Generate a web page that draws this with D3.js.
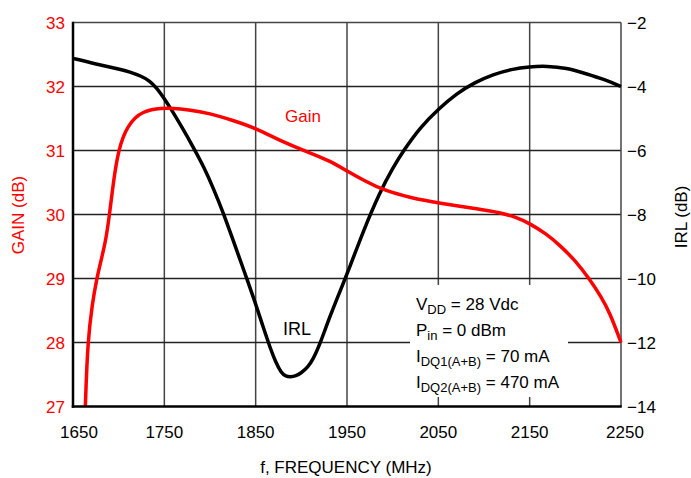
<!DOCTYPE html>
<html><head><meta charset="utf-8">
<script src="https://cdn.jsdelivr.net/npm/d3@7"></script>
<style>
body{margin:0;background:#fff;}
text{font-family:"Liberation Sans",Arial,Helvetica,sans-serif;}
</style></head>
<body><svg id="c" width="691" height="478"></svg>
<script>
const freqTicks = [1650,1750,1850,1950,2050,2150,2250];
const gainTicks = [27,28,29,30,31,32,33];
const irlTicks = [-14,-12,-10,-8,-6,-4,-2];

const gainFreq = [1663.5,1666,1671,1676,1681,1686,1690,1695,1700,1705,1710,1718,1727,1736,1745,1760,1775,1800,1825,1850,1880,1910,1931,1950,1970,1990,2020,2050,2096,2117,2135,2150,2168,2183,2200,2216,2228,2238,2250];
const gainVal  = [27.0,28.0,28.6,29.0,29.3,29.6,30.0,30.6,31.0,31.22,31.37,31.52,31.6,31.64,31.66,31.66,31.64,31.58,31.47,31.35,31.13,30.96,30.84,30.68,30.52,30.38,30.26,30.18,30.08,30.03,29.96,29.86,29.7,29.52,29.28,28.98,28.72,28.46,28.0];

const irlFreq = [1650,1675,1701,1712,1725,1734,1742,1749,1756,1769,1782,1793,1804,1815,1824,1833,1840,1851,1858,1866,1872,1878,1883,1888,1894,1900,1907,1913,1920,1931,1944,1951,1968,1986,2000,2012,2030,2051,2070,2090,2110,2130,2150,2169,2190,2212,2232,2250];
const irlVal  = [-3.12,-3.3,-3.46,-3.54,-3.68,-3.82,-4.06,-4.34,-4.64,-5.26,-5.91,-6.5,-7.2,-7.98,-8.7,-9.42,-9.98,-10.88,-11.5,-12.18,-12.62,-12.95,-13.06,-13.08,-13.05,-12.95,-12.78,-12.52,-12.08,-11.2,-10.28,-9.8,-8.5,-7.3,-6.55,-6.0,-5.28,-4.68,-4.22,-3.87,-3.62,-3.46,-3.38,-3.36,-3.42,-3.6,-3.78,-4.0];

const notes = [
  {main:"V", sub:"DD", rest:" = 28 Vdc"},
  {main:"P", sub:"in", rest:" = 0 dBm"},
  {main:"I", sub:"DQ1(A+B)", rest:" = 70 mA"},
  {main:"I", sub:"DQ2(A+B)", rest:" = 470 mA"}
];

const L=73, R=621, T=22.5, B=406.5;
const svg = d3.select("#c");
const x = d3.scaleLinear().domain([1650,2250]).range([L,R]);
const yG = d3.scaleLinear().domain([27,33]).range([B,T]);
const yI = d3.scaleLinear().domain([-14,-2]).range([B,T]);

// grid
const g = svg.append("g");
g.selectAll("line.v").data(freqTicks.slice(1,-1)).enter().append("line")
  .attr("x1",d=>x(d)).attr("x2",d=>x(d)).attr("y1",T).attr("y2",B)
  .attr("stroke","#444").attr("stroke-width",1.5);
g.selectAll("line.h").data(gainTicks.slice(1,-1)).enter().append("line")
  .attr("x1",L).attr("x2",R).attr("y1",d=>yG(d)).attr("y2",d=>yG(d))
  .attr("stroke","#222").attr("stroke-width",1.5);
svg.append("line").attr("x1",L).attr("x2",R).attr("y1",T).attr("y2",T).attr("stroke","#444").attr("stroke-width",1.5);
svg.append("line").attr("x1",R).attr("x2",R).attr("y1",T).attr("y2",B).attr("stroke","#444").attr("stroke-width",1.5);

// white box behind annotation
svg.append("rect").attr("x",410).attr("y",285).attr("width",158).attr("height",112).attr("fill","#fff");

// curves
const line = (xs,ys,yScale)=> d3.line().curve(d3.curveBasis)
  .x((d,i)=>x(xs[i])).y((d,i)=>yScale(ys[i]));
svg.append("path").datum(irlFreq).attr("d",line(irlFreq,irlVal,yI))
  .attr("fill","none").attr("stroke","#000").attr("stroke-width",3.5).attr("stroke-linejoin","round");
svg.append("path").datum(gainFreq).attr("d",line(gainFreq,gainVal,yG))
  .attr("fill","none").attr("stroke","#ff0000").attr("stroke-width",3.5).attr("stroke-linejoin","round");

// left & bottom axes
svg.append("line").attr("x1",L).attr("x2",L).attr("y1",T-0.75).attr("y2",B+1.25).attr("stroke","#000").attr("stroke-width",2.5);
svg.append("line").attr("x1",L-1.25).attr("x2",R+0.75).attr("y1",B).attr("y2",B).attr("stroke","#000").attr("stroke-width",2.5);

const fs = 17;
svg.selectAll("text.gl").data(gainTicks).enter().append("text")
  .attr("x",65).attr("y",d=>yG(d)+6).attr("text-anchor","end")
  .attr("font-size",fs).attr("fill","#ff0000").text(d=>d);
svg.selectAll("text.il").data(irlTicks).enter().append("text")
  .attr("x",627).attr("y",d=>yI(d)+6).attr("text-anchor","start")
  .attr("font-size",fs).attr("fill","#000").text(d=>"\u2212"+Math.abs(d));
svg.selectAll("text.xl").data(freqTicks).enter().append("text")
  .attr("x",(d,i)=>x(d)+(i===0?6:(i===freqTicks.length-1?4:0))).attr("y",438).attr("text-anchor","middle")
  .attr("font-size",fs).attr("fill","#000").text(d=>d);

svg.append("text").attr("transform","translate(24,215) rotate(-90)").attr("text-anchor","middle")
  .attr("font-size",fs).attr("fill","#ff0000").text("GAIN (dB)");
svg.append("text").attr("transform","translate(687,217) rotate(-90)").attr("text-anchor","middle")
  .attr("font-size",fs).attr("fill","#000").text("IRL (dB)");
svg.append("text").attr("x",346).attr("y",473).attr("text-anchor","middle")
  .attr("font-size",fs).attr("fill","#000").text("f, FREQUENCY (MHz)");

svg.append("text").attr("x",285).attr("y",122).attr("font-size",fs).attr("fill","#ff0000").text("Gain");
svg.append("text").attr("x",283).attr("y",335).attr("font-size",fs+1).attr("fill","#000").text("IRL");

const nt = svg.append("g");
notes.forEach((n,i)=>{
  const t = nt.append("text").attr("x",416).attr("y",310+i*26).attr("font-size",fs).attr("fill","#000");
  t.append("tspan").text(n.main);
  t.append("tspan").attr("font-size",13).attr("dy",4).text(n.sub);
  t.append("tspan").attr("dy",-4).text(n.rest);
});
</script></body></html>
